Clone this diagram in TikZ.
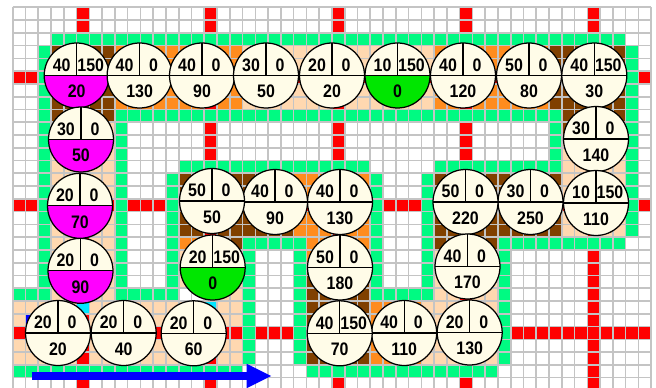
\documentclass[tikz,border=0pt]{standalone}
\usepackage{fontspec}
\usepackage{tikz}
\usetikzlibrary{arrows.meta, calc}
\newfontfamily\numfont[FakeStretch=0.88]{Liberation Sans}
\definecolor{gridgray}{RGB}{196,196,196}
\definecolor{linered}{RGB}{255,0,0}
\definecolor{edgegreen}{RGB}{0,250,130}
\definecolor{lanepeach}{RGB}{255,216,176}
\definecolor{laneorange}{RGB}{255,140,30}
\definecolor{lanebrown}{RGB}{128,64,0}
\definecolor{stopcream}{RGB}{255,252,232}
\definecolor{stopmag}{RGB}{255,0,255}
\definecolor{stopgreen}{RGB}{0,230,0}
\definecolor{flowblue}{RGB}{0,0,255}
\definecolor{markcyan}{RGB}{0,230,255}
\tikzset{
  stopnode/.style={circle, draw=black, line width=1pt, fill=stopcream,
    minimum size=52pt, inner sep=0pt,
    path picture={
      \fill[#1] (path picture bounding box.west) rectangle (path picture bounding box.south east);
      \draw[line width=1pt] (path picture bounding box.west) -- (path picture bounding box.east)
        (path picture bounding box.north) -- (path picture bounding box.center);
    }},
  numlabel/.style={font=\numfont\bfseries\fontsize{14.5}{15}\selectfont, inner sep=0pt},
  flowarrow/.style={-{Triangle[length=20pt, width=18pt]}, line width=6.6pt, color=flowblue},
  gridline/.style={gridgray, line width=1.3pt}
}

\begin{document}
\begin{tikzpicture}[x=0.8pt, y=-0.8pt]
  \useasboundingbox (0,0) rectangle (656,388);
  \clip (0,0) rectangle (656,388);

  % grid of cells, 1 unit = 1 cell
  \begin{scope}[shift={(12.7,7.3)}, x=10.216pt, y=-10.216pt]
    % lanes
    \fill[lanebrown] (3,3) rectangle (8,9);
    \fill[laneorange] (8,3) rectangle (18,8);
    \fill[lanepeach] (18,3) rectangle (33,8);
    \fill[laneorange] (33,3) rectangle (42,8);
    \fill[lanebrown] (42,3) rectangle (48,10);
    \fill[lanepeach] (43,10) rectangle (48,13);
    \fill[lanebrown] (33,13) rectangle (43,18);
    \fill[lanepeach] (43,13) rectangle (48,18);
    \fill[lanebrown] (33,18) rectangle (38,19);
    \fill[lanepeach] (33,19) rectangle (38,23);
    \fill[lanebrown] (23,23) rectangle (28,28);
    \fill[laneorange] (28,23) rectangle (32,28);
    \fill[lanepeach] (32,23) rectangle (38,28);
    \fill[laneorange] (23,18) rectangle (28,20);
    \fill[lanebrown] (23,20) rectangle (28,23);
    \fill[lanebrown] (13,13) rectangle (22,18);
    \fill[laneorange] (22,13) rectangle (28,18);
    \fill[laneorange] (13,18) rectangle (15,19);
    \fill[lanebrown] (15,18) rectangle (18,19);
    \fill[lanepeach] (13,19) rectangle (18,22);
    \fill[lanepeach] (15,22) rectangle (18,23);
    \fill[lanepeach] (3,9) rectangle (8,23);
    \fill[lanepeach] (0,23) rectangle (18,28);

    % red lines
    \foreach \c in {5,15,25,35,45}
      \fill[linered] (\c,0) rectangle (\c+1,30);
    \foreach \r in {5,15,25}
      \fill[linered] (0,\r) rectangle (50,\r+1);

    % marks
    \fill[markcyan] (5,23) rectangle (6,24);
    \fill[markcyan] (15,23) rectangle (16,24);
    \fill[flowblue] (1,24) rectangle (2,25);

    % lane edges
    \fill[edgegreen] (3,2) rectangle (48,3);
    \fill[edgegreen] (2,3) rectangle (3,23);
    \fill[edgegreen] (0,22) rectangle (2,23);
    \fill[edgegreen] (48,3) rectangle (49,18);
    \fill[edgegreen] (8,8) rectangle (43,9);
    \fill[edgegreen] (8,9) rectangle (9,23);
    \fill[edgegreen] (9,22) rectangle (13,23);
    \fill[edgegreen] (12,13) rectangle (13,22);
    \fill[edgegreen] (13,12) rectangle (28,13);
    \fill[edgegreen] (28,13) rectangle (29,23);
    \fill[edgegreen] (29,22) rectangle (33,23);
    \fill[edgegreen] (32,13) rectangle (33,22);
    \fill[edgegreen] (33,12) rectangle (43,13);
    \fill[edgegreen] (42,9) rectangle (43,12);
    \fill[edgegreen] (38,18) rectangle (48,19);
    \fill[edgegreen] (38,19) rectangle (39,28);
    \fill[edgegreen] (23,28) rectangle (38,29);
    \fill[edgegreen] (22,18) rectangle (23,28);
    \fill[edgegreen] (18,18) rectangle (22,19);
    \fill[edgegreen] (18,19) rectangle (19,28);
    \fill[edgegreen] (0,28) rectangle (18,29);

    \foreach \c in {0,...,50}
      \draw[gridline] (\c,0) -- (\c,30);
    \foreach \r in {0,...,30}
      \draw[gridline] (0,\r) -- (50,\r);
  \end{scope}

  % stops
  \foreach \x/\y/\na/\nb/\nc/\fc [count=\i] in {
      76.7/75.5/40/150/20/stopmag, 139.6/75.5/40/0/130/stopcream,
      202/75.5/40/0/90/stopcream, 266/75.5/30/0/50/stopcream,
      332/75.5/20/0/20/stopcream, 397.5/75.5/10/150/0/stopgreen,
      463/75.5/40/0/120/stopcream, 529/75.5/50/0/80/stopcream,
      594.3/75.5/40/150/30/stopcream, 596/139/30/0/140/stopcream,
      596/203/10/150/110/stopcream, 530.5/202/30/0/250/stopcream,
      465.5/202/50/0/220/stopcream, 467.5/266.5/40/0/170/stopcream,
      469.7/332.5/20/0/130/stopcream, 404.2/333/40/0/110/stopcream,
      339.7/333.3/40/150/70/stopcream, 340/267.5/50/0/180/stopcream,
      340/202/40/0/130/stopcream, 275/202/40/0/90/stopcream,
      212/201/50/0/50/stopcream, 212.7/267.5/20/150/0/stopgreen,
      193.7/333.3/20/0/60/stopcream, 123.7/333/20/0/40/stopcream,
      58/333/20/0/20/stopcream, 80.5/270.8/20/0/90/stopmag,
      80/205.8/20/0/70/stopmag, 81/139.5/30/0/50/stopmag} {
    \node[stopnode=\fc] (s\i) at (\x,\y) {};
    \node[numlabel] (s\i-l) at ($(s\i)+(-15,-10.5)$) {\na};
    \node[numlabel] (s\i-r) at ($(s\i)+(14,-10.5)$) {\nb};
    \node[numlabel] (s\i-b) at ($(s\i)+(0,16)$) {\nc};
  }

  \coordinate (flowstart) at (31.7,376);
  \coordinate (flowend) at (271.7,376);
  \draw[flowarrow] (flowstart) -- (flowend);
\end{tikzpicture}
\end{document}
